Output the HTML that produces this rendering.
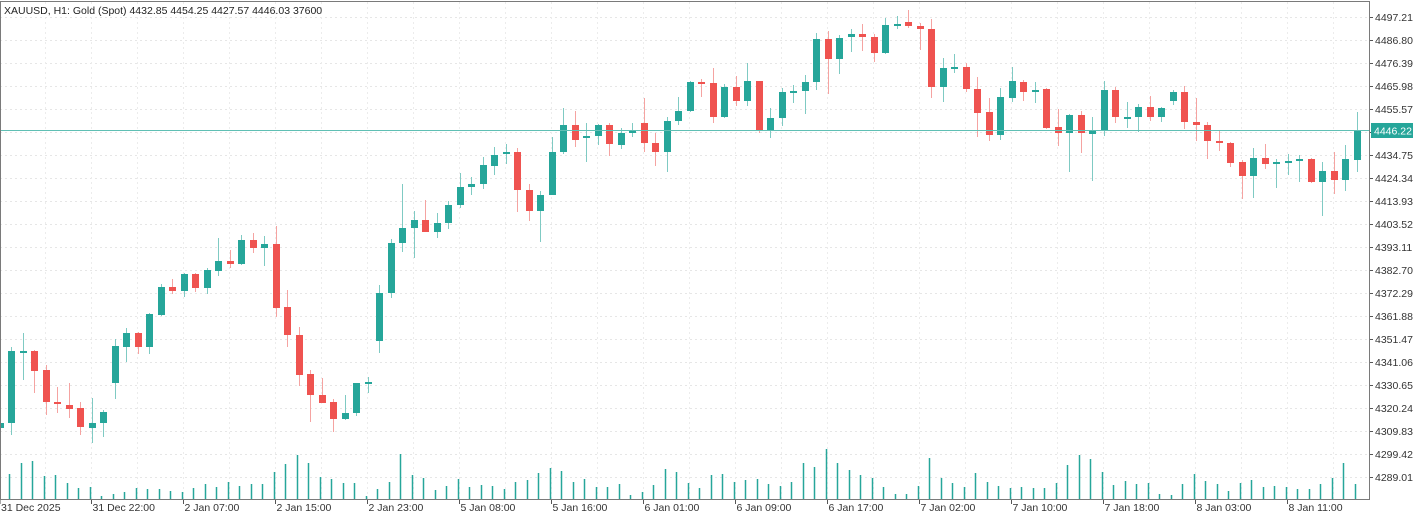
<!DOCTYPE html>
<html><head><meta charset="utf-8"><style>
html,body{margin:0;padding:0;background:#fff;}
svg{display:block;font-family:"Liberation Sans",sans-serif;}
</style></head><body>
<svg id="c" width="1416" height="513" viewBox="0 0 1416 513" xmlns="http://www.w3.org/2000/svg"></svg>
<script>
const NS="http://www.w3.org/2000/svg",svg=document.getElementById('c');
function el(t,a,txt){const e=document.createElementNS(NS,t);for(const k in a)e.setAttribute(k,a[k]);if(txt!=null)e.textContent=txt;svg.appendChild(e);return e;}
// grid
for(let k=0;k<21;k++){const y=17+23*k;el('line',{x1:0,x2:1369,y1:y+.5,y2:y+.5,stroke:'#e6e6e6','stroke-dasharray':'2,3'});}
for(let x=45.5;x<1369;x+=46){el('line',{x1:x,x2:x,y1:2,y2:499,stroke:'#ececec','stroke-dasharray':'2,3'});}
// candles: [o,c,h,l] pixel y, G/R
const C=[
[423,428,420,432,'G'],
[423,351,347,435,'G'],[351,351,333,380,'G'],[351,371,350,393,'R'],[370,402,365,415,'R'],[402,404,387,413,'R'],[405,409,383,418,'R'],[408,427,402,435,'R'],[428,423,398,443,'G'],[423,412,410,437,'G'],[383,346,339,399,'G'],
[347,333,328,362,'G'],[333,347,332,354,'R'],[347,314,313,354,'G'],[315,287,284,316,'G'],[287,291,279,294,'R'],[291,274,273,297,'G'],[274,288,273,292,'R'],[288,270,268,294,'G'],[271,261,238,276,'G'],[261,264,250,268,'R'],
[264,240,235,265,'G'],[240,248,233,253,'R'],[248,244,236,266,'G'],[244,308,226,317,'R'],[307,335,290,347,'R'],[335,375,327,386,'R'],[374,395,370,422,'R'],[395,403,378,403,'R'],[402,419,399,432,'R'],[419,413,395,420,'G'],
[413,383,383,416,'G'],[383,382,377,393,'G'],[341,293,285,353,'G'],[293,243,239,298,'G'],[243,228,184,252,'G'],[228,220,211,258,'G'],[220,232,200,232,'R'],[232,223,213,238,'G'],[223,205,201,229,'G'],[205,187,173,208,'G'],
[187,184,177,195,'G'],[184,165,157,189,'G'],[166,155,147,175,'G'],[154,152,144,164,'G'],[152,190,148,212,'R'],[190,211,184,221,'R'],[211,195,191,242,'G'],[195,152,137,195,'G'],[152,125,108,154,'G'],[125,140,111,147,'R'],
[138,136,123,162,'G'],[136,125,124,145,'G'],[125,144,123,156,'R'],[145,133,128,149,'G'],[133,131,123,137,'G'],[123,143,98,152,'R'],[143,152,133,166,'R'],[152,121,117,172,'G'],[121,111,97,125,'G'],[111,82,81,112,'G'],
[82,83,79,97,'R'],[83,117,68,123,'R'],[117,87,84,118,'G'],[87,101,76,106,'R'],[101,81,63,106,'G'],[81,130,81,133,'R'],[130,118,108,138,'G'],[118,92,88,126,'G'],[92,91,85,103,'G'],[91,82,75,114,'G'],
[82,39,33,90,'G'],[39,59,31,94,'R'],[59,38,35,74,'G'],[37,34,29,52,'G'],[34,37,24,51,'R'],[37,53,34,62,'R'],[53,25,18,54,'G'],[25,24,16,29,'G'],[22,26,10,28,'R'],[26,29,23,50,'R'],
[29,87,19,98,'R'],[87,68,58,102,'G'],[68,67,54,73,'G'],[67,89,63,92,'R'],[89,113,77,137,'R'],[112,135,98,141,'R'],[135,97,88,140,'G'],[98,81,67,102,'G'],[82,92,80,101,'R'],[92,90,82,103,'G'],
[89,128,88,129,'R'],[127,133,109,146,'R'],[133,115,114,172,'G'],[115,133,111,153,'R'],[134,130,117,181,'G'],[130,90,81,136,'G'],[90,117,87,123,'R'],[118,117,102,128,'G'],[117,107,104,132,'G'],[107,117,96,121,'R'],
[117,108,107,122,'G'],[101,92,90,105,'G'],[92,122,86,129,'R'],[122,125,98,141,'R'],[125,141,122,159,'R'],[141,143,130,151,'R'],[143,163,142,167,'R'],[162,176,160,199,'R'],[176,158,148,198,'G'],[158,164,144,169,'R'],
[164,162,159,188,'G'],[162,161,154,175,'G'],[161,159,155,182,'G'],[159,182,158,183,'R'],[182,171,162,216,'G'],[171,180,152,194,'R'],[180,159,145,191,'G'],[160,131,112,172,'G']];
const V=[null,474,463,461,476,475,483,488,487,496,494,492,488,489,489,491,492,488,484,487,482,486,484,484,472,464,455,463,477,479,483,483,496,489,482,454,475,478,490,486,479,
487,485,486,489,482,480,473,468,471,482,479,487,487,484,495,492,485,469,472,483,488,475,474,482,480,479,484,486,482,463,467,449,463,470,475,478,487,494,494,486,
458,478,483,487,473,482,486,488,487,488,488,483,465,455,459,472,485,481,484,483,494,495,484,474,481,484,491,483,480,487,486,487,489,489,484,478,463,484];
for(let j=0;j<C.length;j++){
  const i=j-1, x=11+11.5*i, [o,c,h,l,t]=C[j], col=t=='G'?'#26a69a':'#ef5350', wk=t=='G'?'#7fcac3':'#f5a3a1';
  const xr=Math.round(x);
  el('line',{x1:xr+.5,x2:xr+.5,y1:h,y2:l,stroke:wk,'stroke-width':1});
  const top=Math.min(o,c),ht=Math.max(Math.abs(o-c),1);
  el('rect',{x:xr-3,y:top,width:7,height:ht+ (ht<=1?1:0),fill:col});
  if(V[j]!=null){el('line',{x1:xr-1.5,x2:xr-1.5,y1:V[j],y2:500,stroke:'#26a69a','stroke-width':1.5});}
}
// current price line
el('line',{x1:0,x2:1370,y1:130.5,y2:130.5,stroke:'#5fbfb4','stroke-width':1});
// frame
el('rect',{x:0.5,y:1.5,width:1369,height:498,fill:'none',stroke:'#7a7a7a','stroke-width':1});
// price axis
const P=['4497.21','4486.80','4476.39','4465.98','4455.57','4445.16','4434.75','4424.34','4413.93','4403.52','4393.11','4382.70','4372.29','4361.88','4351.47','4341.06','4330.65','4320.24','4309.83','4299.42','4289.01'];
for(let k=0;k<21;k++){const y=17+23*k;el('line',{x1:1370,x2:1373,y1:y+.5,y2:y+.5,stroke:'#555'});
 if(k!=5)el('text',{x:1375,y:y+4,'font-size':10.5,fill:'#333'},P[k]);}
el('rect',{x:1371,y:123,width:42,height:15,fill:'#26a69a'});
el('text',{x:1374,y:134.5,'font-size':10.5,fill:'#fff'},'4446.22');
// time axis
const T=['31 Dec 2025','31 Dec 22:00','2 Jan 07:00','2 Jan 15:00','2 Jan 23:00','5 Jan 08:00','5 Jan 16:00','6 Jan 01:00','6 Jan 09:00','6 Jan 17:00','7 Jan 02:00','7 Jan 10:00','7 Jan 18:00','8 Jan 03:00','8 Jan 11:00'];
for(let k=0;k<T.length;k++){const x=k==0?0:91.5+92*(k-1);
 el('line',{x1:x,x2:x,y1:500,y2:504,stroke:'#555'});
 el('text',{x:x+1,y:511,'font-size':10.5,fill:'#333'},T[k]);}
el('text',{x:4,y:14,'font-size':10.5,fill:'#222'},'XAUUSD, H1:  Gold (Spot)  4432.85 4454.25 4427.57 4446.03  37600');
</script>
</body></html>
